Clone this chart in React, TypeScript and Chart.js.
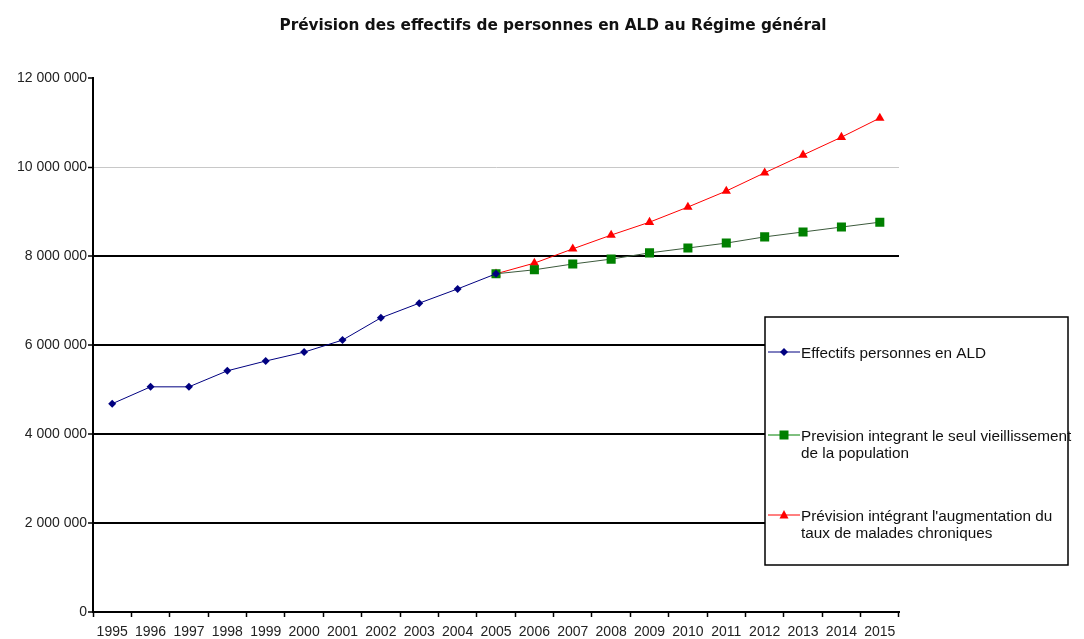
import React, { useEffect, useRef } from "react";
import { Chart, registerables } from "chart.js";

Chart.register(...registerables);

const title = "Prévision des effectifs de personnes en ALD au Régime général";
const years = ["1995","1996","1997","1998","1999","2000","2001","2002","2003","2004","2005","2006","2007","2008","2009","2010","2011","2012","2013","2014","2015"];
const effectifs = [4680000, 5060000, 5060000, 5420000, 5640000, 5840000, 6110000, 6610000, 6940000, 7260000, 7600000, null, null, null, null, null, null, null, null, null, null];
const previsionVieillissement = [null, null, null, null, null, null, null, null, null, null, 7600000, 7690000, 7820000, 7930000, 8070000, 8180000, 8290000, 8430000, 8540000, 8650000, 8760000];
const previsionChroniques = [null, null, null, null, null, null, null, null, null, null, 7600000, 7840000, 8160000, 8470000, 8760000, 9100000, 9460000, 9870000, 10270000, 10670000, 11100000];
const legendLines = [
  ["Effectifs personnes en ALD"],
  ["Prevision integrant le seul vieillissement", "de la population"],
  ["Prévision intégrant l'augmentation du", "taux de malades chroniques"],
];
const yMin = 0;
const yMax = 12000000;
const yStep = 2000000;

const fmt = (v: number) => String(Math.round(v)).replace(/\B(?=(\d{3})+(?!\d))/g, " ");

const overlayPlugin = {
  id: "overlay",
  afterDraw(chart: any) {
    const ctx = chart.ctx as CanvasRenderingContext2D;
    ctx.save();
    // title
    ctx.fillStyle = "#111";
    ctx.font = "bold 15.3px 'DejaVu Sans'";
    ctx.textAlign = "center";
    ctx.textBaseline = "alphabetic";
    ctx.fillText(title, 553, 30);

    // legend box
    const bx = 765, by = 317, bw = 303, bh = 248;
    ctx.fillStyle = "#fff";
    ctx.fillRect(bx, by, bw, bh);
    ctx.strokeStyle = "#000";
    ctx.lineWidth = 1.5;
    ctx.strokeRect(bx, by, bw, bh);

    const rowsY = [352, 435, 515];
    const ds = chart.data.datasets;
    ctx.font = "15.3px 'Liberation Sans'";
    ctx.textAlign = "left";
    ctx.textBaseline = "middle";
    rowsY.forEach((y, i) => {
      const d = ds[i];
      ctx.strokeStyle = d.legendLineColor || d.borderColor;
      ctx.lineWidth = 1;
      ctx.beginPath();
      ctx.moveTo(768, y);
      ctx.lineTo(800, y);
      ctx.stroke();
      const cx = 784;
      ctx.fillStyle = d.pointBackgroundColor;
      ctx.beginPath();
      if (d.pointStyle === "rectRot") {
        const r = 4;
        ctx.moveTo(cx, y - r);
        ctx.lineTo(cx + r, y);
        ctx.lineTo(cx, y + r);
        ctx.lineTo(cx - r, y);
        ctx.closePath();
      } else if (d.pointStyle === "rect") {
        ctx.rect(cx - 4.5, y - 4.5, 9, 9);
      } else {
        ctx.moveTo(cx, y - 5);
        ctx.lineTo(cx + 4.5, y + 3.5);
        ctx.lineTo(cx - 4.5, y + 3.5);
        ctx.closePath();
      }
      ctx.fill();
      ctx.fillStyle = "#111";
      legendLines[i].forEach((line, j) => {
        ctx.fillText(line, 801, y + 2 + j * 17);
      });
    });
    ctx.restore();
  },
};

export default function App() {
  const ref = useRef<HTMLCanvasElement | null>(null);
  useEffect(() => {
    if (!ref.current) return;
    const chart = new Chart(ref.current, {
      type: "line",
      data: {
        labels: years,
        datasets: [
          {
            label: legendLines[0].join(" "),
            data: effectifs,
            borderColor: "#000080",
            borderWidth: 1,
            pointStyle: "rectRot",
            pointRadius: 4,
            pointBackgroundColor: "#000080",
            pointBorderColor: "#000080",
            pointBorderWidth: 0,
            spanGaps: false,
          } as any,
          {
            label: legendLines[1].join(" "),
            data: previsionVieillissement,
            borderColor: "#3c5a3c",
            legendLineColor: "#008000",
            borderWidth: 1,
            pointStyle: "rect",
            pointRadius: 6.4,
            pointBackgroundColor: "#008000",
            pointBorderColor: "#006400",
            pointBorderWidth: 0,
          } as any,
          {
            label: legendLines[2].join(" "),
            data: previsionChroniques,
            borderColor: "#ff0000",
            borderWidth: 1,
            pointStyle: "triangle",
            pointRadius: 5.4,
            pointBackgroundColor: "#ff0000",
            pointBorderColor: "#ff0000",
            pointBorderWidth: 0,
          } as any,
        ],
      },
      options: {
        animation: false,
        responsive: false,
        devicePixelRatio: 1,
        layout: { padding: { top: 78, right: 185, left: 0, bottom: 0 } },
        plugins: {
          legend: { display: false },
          title: { display: false },
          tooltip: { enabled: false },
        },
        scales: {
          x: {
            type: "category",
            offset: true,
            afterFit: (s: any) => { s.height = 27; },
            grid: {
              display: true,
              drawOnChartArea: false,
              offset: true,
              tickLength: 5,
              tickColor: "#000",
              tickWidth: 1.5,
            },
            border: { display: true, color: "#000", width: 2 },
            ticks: {
              color: "#222",
              font: { family: "'Liberation Sans'", size: 14 },
              padding: 7,
              maxRotation: 0,
              autoSkip: false,
            },
          },
          y: {
            min: yMin,
            max: yMax,
            afterFit: (s: any) => { s.width = 93; },
            grid: {
              color: (c: any) => {
                const v = c.tick ? c.tick.value : 0;
                if (v === yMin || v === yMax) return "rgba(0,0,0,0)";
                if (v === 10000000) return "#c8c8c8";
                return "#000";
              },
              lineWidth: (c: any) => {
                const v = c.tick ? c.tick.value : 0;
                return v === 10000000 ? 1 : 2;
              },
              tickLength: 5,
              tickColor: "#000",
              tickWidth: 1.5,
            },
            border: { display: true, color: "#000", width: 2 },
            ticks: {
              stepSize: yStep,
              color: "#222",
              font: { family: "'Liberation Sans'", size: 14 },
              padding: 1,
              callback: (v: any) => fmt(Number(v)),
            },
          },
        },
      },
      plugins: [overlayPlugin],
    });
    return () => chart.destroy();
  }, []);
  return (
    <div style={{ position: "fixed", left: 0, top: 0, width: 1084, height: 639, background: "#fff" }}>
      <canvas ref={ref} width={1084} height={639} style={{ display: "block" }} />
    </div>
  );
}
